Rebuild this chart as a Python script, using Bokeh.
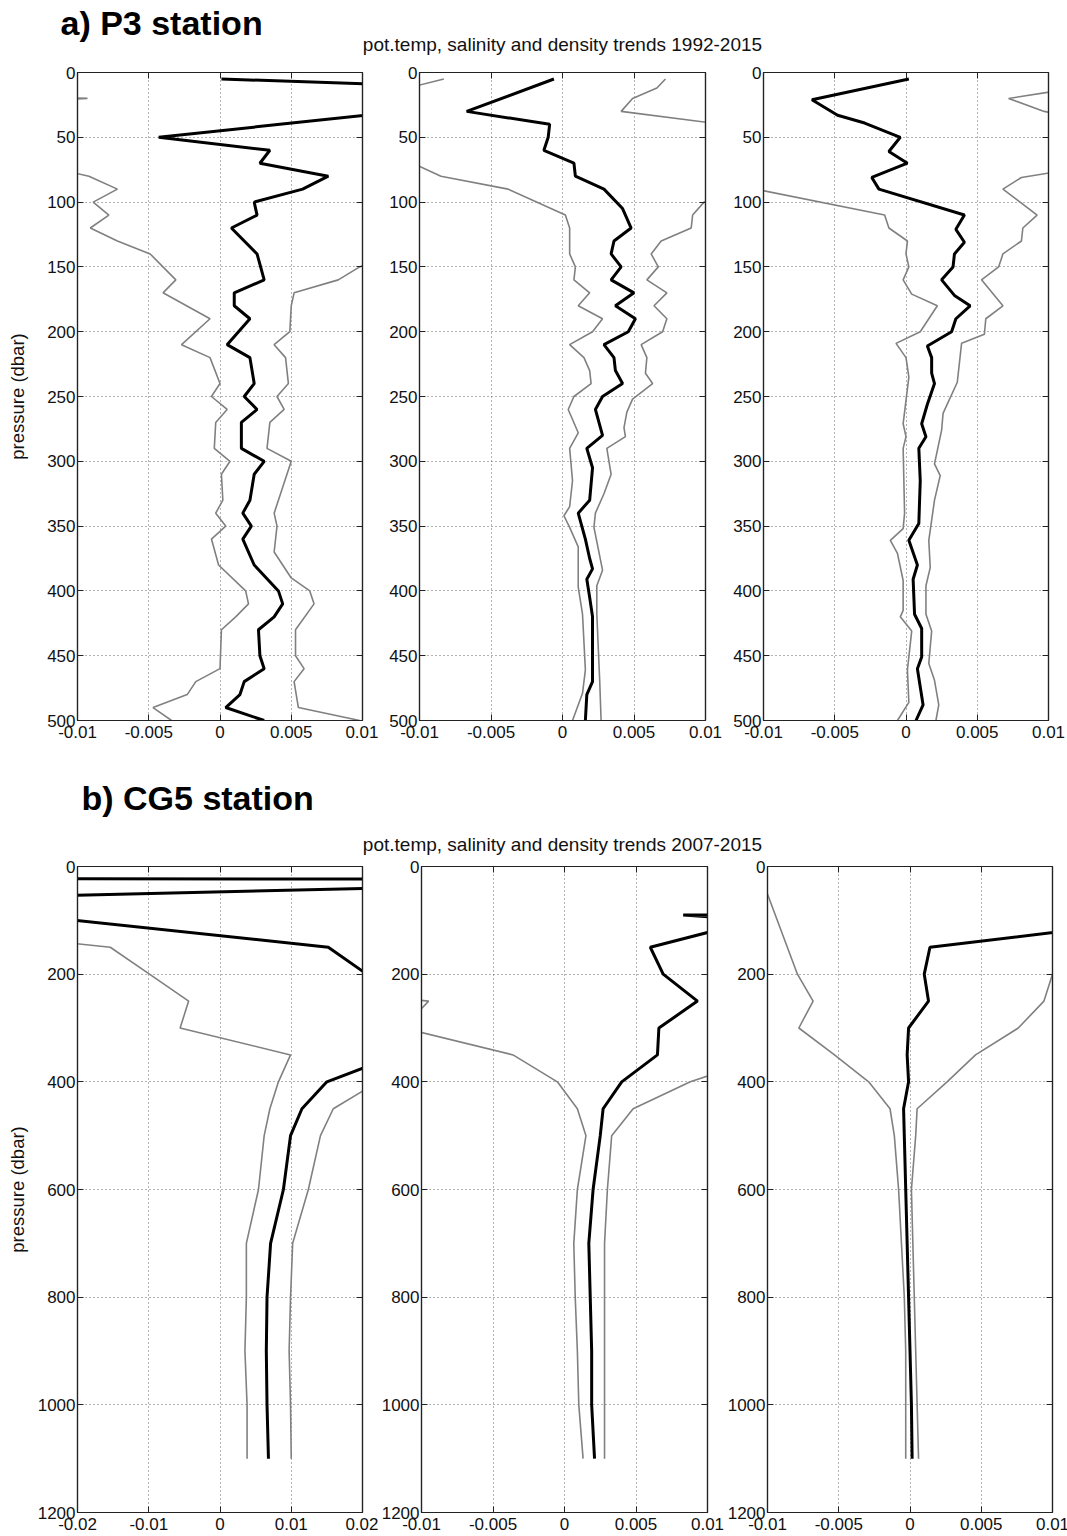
from bokeh.plotting import figure
from bokeh.models import Range1d, FixedTicker, LinearAxis, Label
from bokeh.layouts import column, row
from bokeh.embed import file_html
from bokeh.resources import INLINE

FONT = "Liberation Sans"

# ---------------- P3 station, trends 1992-2015 ----------------
# pot.temp trend and its lower / upper bounds (value vs pressure in dbar)
p3_temp_p = [5, 10, 20, 30, 40, 50, 60, 70, 80, 90, 100, 110, 120, 140, 160, 170, 180, 190, 210, 220,
             240, 250, 260, 270, 290, 300, 310, 330, 340, 350, 360, 380, 400, 410, 420, 430, 450, 460,
             470, 480, 490, 500]
p3_temp = [0.0001, 0.0135, 0.03, 0.0127, 0.0042, -0.0043, 0.0035, 0.0028, 0.0076, 0.0058, 0.0024,
           0.0026, 0.0008, 0.0026, 0.0031, 0.0010, 0.0010, 0.0021, 0.0005, 0.0021, 0.0024, 0.0017,
           0.0026, 0.0015, 0.0015, 0.0031, 0.0024, 0.0021, 0.0016, 0.0022, 0.0016, 0.0024, 0.0041,
           0.0044, 0.0038, 0.0027, 0.0028, 0.0031, 0.0017, 0.0014, 0.0004, 0.0031]
p3_temp_lo_p = [10, 20, 30, 70, 80, 90, 100, 110, 120, 130, 140, 160, 170, 190, 210, 220, 240, 250,
                260, 270, 290, 300, 310, 330, 340, 350, 360, 380, 400, 410, 420, 430, 460, 470, 480,
                490, 500]
p3_temp_lo = [-0.03, -0.0093, -0.03, -0.0132, -0.0092, -0.0072, -0.0089, -0.0078, -0.0091, -0.0072,
              -0.0049, -0.0031, -0.0040, -0.0007, -0.0027, -0.0007, 0.0000, -0.0006, 0.0005, -0.0003,
              -0.0004, 0.0007, 0.0001, 0.0002, -0.0003, 0.0004, -0.0006, -0.0001, 0.0018, 0.0020,
              0.0011, 0.0001, 0.0000, -0.0017, -0.0023, -0.0047, -0.0034]
p3_temp_hi_p = [130, 140, 150, 160, 170, 180, 200, 210, 220, 240, 250, 260, 270, 290, 300, 320, 340,
                350, 370, 390, 400, 410, 430, 450, 460, 470, 490, 500]
p3_temp_hi = [0.015, 0.0118, 0.0098, 0.0083, 0.0052, 0.0050, 0.0049, 0.0038, 0.0046, 0.0048, 0.0040,
              0.0045, 0.0035, 0.0033, 0.0050, 0.0044, 0.0038, 0.0040, 0.0038, 0.0050, 0.0063, 0.0066,
              0.0053, 0.0053, 0.0059, 0.0052, 0.0055, 0.0098]

# salinity trend and bounds
p3_sal_p = [5, 30, 40, 50, 60, 70, 80, 90, 105, 120, 130, 140, 150, 160, 170, 180, 190, 200, 210, 220,
            230, 240, 250, 260, 280, 290, 305, 330, 340, 360, 375, 383, 391, 405, 420, 470, 480, 500]
p3_sal = [-0.0006, -0.0067, -0.0009, -0.0010, -0.0013, 0.0008, 0.0009, 0.0029, 0.0042, 0.0048, 0.0036,
          0.0034, 0.0041, 0.0034, 0.0050, 0.0037, 0.0051, 0.0046, 0.0029, 0.0036, 0.0037, 0.0042,
          0.0028, 0.0023, 0.0028, 0.0017, 0.0021, 0.0019, 0.0011, 0.0016, 0.0019, 0.0021, 0.0017,
          0.0019, 0.0021, 0.0021, 0.0017, 0.0016]
p3_sal_lo_p = [5, 10, 20, 70, 80, 90, 110, 120, 140, 150, 160, 170, 180, 190, 200, 210, 220, 230, 240,
               250, 260, 278, 290, 315, 335, 342, 351, 366, 397, 418, 461, 479, 500]
p3_sal_lo = [-0.0083, -0.0101, -0.03, -0.0105, -0.0085, -0.0038, 0.0002, 0.0005, 0.0005, 0.0009,
             0.0008, 0.0019, 0.0011, 0.0028, 0.0021, 0.0005, 0.0015, 0.0019, 0.0020, 0.0008, 0.0004,
             0.0011, 0.0005, 0.0007, 0.0005, 0.0001, 0.0005, 0.0011, 0.0011, 0.0014, 0.0016, 0.0014,
             0.0007]
p3_sal_hi_p = [5, 12, 20, 30, 40, 50, 90, 100, 110, 120, 130, 140, 150, 160, 170, 180, 190, 200, 210,
               220, 232, 240, 252, 262, 274, 281, 290, 310, 325, 340, 351, 384, 396, 418, 469, 500]
p3_sal_hi = [0.0072, 0.0066, 0.0049, 0.0041, 0.0112, 0.02, 0.013, 0.0099, 0.0091, 0.0090, 0.0069,
             0.0062, 0.0067, 0.0059, 0.0073, 0.0064, 0.0073, 0.0070, 0.0055, 0.0059, 0.0058, 0.0063,
             0.0049, 0.0045, 0.0043, 0.0044, 0.0031, 0.0034, 0.0029, 0.0023, 0.0022, 0.0028, 0.0024,
             0.0024, 0.0026, 0.0027]

# density trend and bounds
p3_dens_p = [5, 21, 33, 39, 50, 61, 70, 81, 90, 110, 121, 131, 140, 150, 160, 172, 180, 190, 200, 211,
             220, 232, 240, 256, 271, 281, 290, 315, 348, 361, 380, 391, 418, 429, 451, 460, 488, 500]
p3_dens = [0.0002, -0.0066, -0.0048, -0.0029, -0.0004, -0.0012, 0.0001, -0.0024, -0.0019, 0.0041,
           0.0035, 0.0041, 0.0034, 0.0033, 0.0025, 0.0034, 0.0045, 0.0035, 0.0032, 0.0015, 0.0018,
           0.0018, 0.0020, 0.0015, 0.0011, 0.0014, 0.0009, 0.0010, 0.0009, 0.0002, 0.0008, 0.0005,
           0.0006, 0.0011, 0.0011, 0.0008, 0.0012, 0.0007]
p3_dens_lo_p = [80, 91, 110, 120, 130, 140, 150, 160, 171, 180, 200, 209, 220, 235, 253, 271, 281, 290,
                340, 352, 361, 371, 392, 415, 420, 431, 451, 461, 486, 500]
p3_dens_lo = [-0.02, -0.0101, -0.0015, -0.0012, 0.0001, 0.0000, 0.0002, -0.0002, 0.0004, 0.0022,
              0.0010, -0.0007, 0.0000, 0.0002, 0.0000, -0.0002, 0.0000, -0.0002, -0.0001, -0.0002,
              -0.0011, -0.0006, -0.0002, -0.0002, -0.0004, 0.0004, 0.0002, 0.0001, 0.0002, -0.0006]
p3_dens_hi_p = [10, 20, 30, 40, 70, 81, 90, 110, 120, 130, 140, 150, 160, 180, 190, 202, 209, 239, 263,
                276, 302, 311, 330, 361, 382, 396, 418, 431, 456, 469, 488, 500]
p3_dens_hi = [0.0130, 0.0072, 0.0097, 0.014, 0.0142, 0.0081, 0.0068, 0.0092, 0.0082, 0.0081, 0.0068,
              0.0065, 0.0053, 0.0068, 0.0056, 0.0055, 0.0039, 0.0036, 0.0026, 0.0025, 0.0020, 0.0024,
              0.0020, 0.0016, 0.0017, 0.0014, 0.0014, 0.0018, 0.0016, 0.0020, 0.0023, 0.0021]

# ---------------- CG5 station, trends 2007-2015 ----------------
cg5_temp_p = [10, 20, 30, 40, 60, 80, 100, 150, 200, 250, 300, 350, 400, 450, 500, 600, 700, 800, 900,
              1000, 1100]
cg5_temp = [-0.4, -0.6, 1.4, 0.0232, -0.0418, -0.06, -0.0202, 0.0152, 0.0206, 0.035, 0.03, 0.025,
            0.0150, 0.0115, 0.0099, 0.0089, 0.0071, 0.0066, 0.0065, 0.0066, 0.0068]
cg5_temp_lo_p = [100, 150, 200, 250, 300, 350, 400, 450, 500, 600, 700, 800, 900, 1000, 1100]
cg5_temp_lo = [-0.052, -0.0154, -0.0099, -0.0044, -0.0056, 0.0099, 0.0082, 0.0070, 0.0062, 0.0054,
               0.0037, 0.0037, 0.0035, 0.0038, 0.0038]
cg5_temp_hi_p = [350, 400, 450, 500, 600, 700, 800, 900, 1000, 1100]
cg5_temp_hi = [0.03, 0.0222, 0.0159, 0.0141, 0.0124, 0.0102, 0.0099, 0.0097, 0.0099, 0.0100]

cg5_sal_p = [80, 90, 100, 150, 200, 250, 300, 350, 400, 450, 500, 600, 700, 800, 900, 1000, 1100]
cg5_sal = [0.05, 0.0083, 0.0133, 0.0060, 0.0069, 0.0093, 0.0066, 0.0065, 0.0040, 0.0027, 0.0025,
           0.0020, 0.0017, 0.0018, 0.0019, 0.0019, 0.0021]
cg5_sal_lo_p = [200, 250, 300, 350, 400, 450, 500, 600, 700, 800, 900, 1000, 1100]
cg5_sal_lo = [-0.03, -0.0095, -0.0113, -0.0036, -0.0005, 0.0009, 0.0015, 0.0009, 0.00065, 0.00075,
              0.0009, 0.0010, 0.0013]
cg5_sal_hi_p = [350, 400, 450, 500, 600, 700, 800, 900, 1000, 1100]
cg5_sal_hi = [0.0143, 0.0088, 0.0048, 0.0033, 0.0030, 0.0028, 0.0028, 0.0028, 0.0028, 0.0028]

cg5_dens_p = [50, 100, 150, 200, 250, 300, 350, 400, 450, 500, 600, 700, 800, 900, 1000, 1100]
cg5_dens = [0.03, 0.0172, 0.0014, 0.0010, 0.0013, -0.0001, -0.0002, -0.0001, -0.00045, -0.0004,
            -0.0003, -0.0002, -0.0001, 0.0000, 0.0001, 0.00015]
cg5_dens_lo_p = [30, 200, 250, 300, 350, 400, 450, 500, 600, 700, 800, 900, 1000, 1100]
cg5_dens_lo = [-0.0103, -0.0079, -0.0068, -0.0078, -0.0053, -0.0029, -0.0014, -0.0011, -0.0008,
               -0.0006, -0.0004, -0.0003, -0.0003, -0.0003]
cg5_dens_hi_p = [150, 200, 250, 300, 350, 400, 450, 500, 600, 700, 800, 900, 1000, 1100]
cg5_dens_hi = [0.02, 0.0100, 0.0094, 0.0076, 0.0046, 0.0026, 0.0005, 0.0004, 0.0001, 0.0002, 0.0003,
               0.0004, 0.0005, 0.0006]

# ---------------- axes ----------------
ticks_01 = [-0.01, -0.005, 0, 0.005, 0.01]
tick_labels_01 = ["-0.01", "-0.005", "0", "0.005", "0.01"]
ticks_02 = [-0.02, -0.01, 0, 0.01, 0.02]
tick_labels_02 = ["-0.02", "-0.01", "0", "0.01", "0.02"]
p3_pressure_ticks = [0, 50, 100, 150, 200, 250, 300, 350, 400, 450, 500]
cg5_pressure_ticks = [0, 200, 400, 600, 800, 1000, 1200]

title_a = "a) P3 station"
title_b = "b) CG5 station"
subtitle_a = "pot.temp, salinity and density trends 1992-2015"
subtitle_b = "pot.temp, salinity and density trends 2007-2015"
y_label = "pressure (dbar)"

TREND_COLOR = "#000000"
BOUND_COLOR = "#808080"
FRAME_COLOR = "#222222"
TICK_FONT = "17px"


def style_axis(ax, ticks, labels=None, hidden=False):
    ax.ticker = FixedTicker(ticks=ticks)
    ax.major_tick_in = 6
    ax.major_tick_out = 0
    ax.minor_tick_line_color = None
    ax.major_tick_line_color = FRAME_COLOR
    ax.axis_line_color = FRAME_COLOR
    ax.axis_line_width = 1.2
    ax.major_label_text_font = FONT
    ax.major_label_text_color = "#111111"
    if hidden:
        ax.major_label_overrides = {t: "" for t in ticks}
        ax.major_label_text_font_size = "0px"
        ax.major_label_standoff = 0
    else:
        ax.major_label_text_font_size = TICK_FONT
        if labels is not None:
            ax.major_label_overrides = dict(zip(ticks, labels))


def panel(series, xlim, xticks, xlabels, ymax, yticks, frame_w, frame_h,
          left, right, top, bottom, ylabel=False, ylabel_standoff=10):
    p = figure(frame_width=frame_w, frame_height=frame_h, title=None,
               x_range=Range1d(*xlim), y_range=Range1d(ymax, 0),
               toolbar_location=None, output_backend="svg",
               min_border_left=left, min_border_right=right,
               min_border_top=top, min_border_bottom=bottom,
               background_fill_color="white", border_fill_color="white",
               outline_line_color=FRAME_COLOR, outline_line_width=1.2)
    style_axis(p.xaxis[0], xticks, xlabels)
    p.xaxis[0].major_label_standoff = 5
    style_axis(p.yaxis[0], yticks)
    p.yaxis[0].major_label_standoff = 2
    if ylabel:
        p.yaxis[0].axis_label = y_label
        p.yaxis[0].axis_label_text_font = FONT
        p.yaxis[0].axis_label_text_font_style = "normal"
        p.yaxis[0].axis_label_text_font_size = "18.5px"
        p.yaxis[0].axis_label_text_color = "#111111"
        p.yaxis[0].axis_label_standoff = ylabel_standoff

    top_ax = LinearAxis()
    style_axis(top_ax, xticks, hidden=True)
    p.add_layout(top_ax, "above")
    right_ax = LinearAxis()
    style_axis(right_ax, yticks, hidden=True)
    p.add_layout(right_ax, "right")

    for g in p.xgrid:
        g.ticker = FixedTicker(ticks=xticks)
    for g in p.ygrid:
        g.ticker = FixedTicker(ticks=yticks)
    p.grid.grid_line_color = "#666666"
    p.grid.grid_line_dash = "1 3"
    p.grid.grid_line_width = 1

    (tp, tv), (lp, lv), (hp, hv) = series
    p.line(lv, lp, line_color=BOUND_COLOR, line_width=1.6)
    p.line(hv, hp, line_color=BOUND_COLOR, line_width=1.6)
    p.line(tv, tp, line_color=TREND_COLOR, line_width=3)
    return p


def header(height, title, title_y, subtitle, subtitle_y, title_x):
    h = figure(width=1067, height=height, title=None,
               x_range=Range1d(0, 1067), y_range=Range1d(height, 0),
               toolbar_location=None, output_backend="svg", x_axis_type=None, y_axis_type=None,
               min_border=0, outline_line_color=None, border_fill_color="white")
    h.add_layout(Label(x=title_x, y=title_y, text=title, text_font=FONT, text_font_style="bold",
                       text_font_size="34px", text_color="#000000", text_baseline="alphabetic",
                       text_align="left"))
    h.add_layout(Label(x=562, y=subtitle_y, text=subtitle, text_font=FONT, text_font_size="19px",
                       text_color="#111111", text_baseline="alphabetic", text_align="center"))
    return h


H1 = 60
H2 = 96
top_row = row(
    panel([(p3_temp_p, p3_temp), (p3_temp_lo_p, p3_temp_lo), (p3_temp_hi_p, p3_temp_hi)],
          (-0.01, 0.01), ticks_01, tick_labels_01, 500, p3_pressure_ticks, 285, 648,
          77, 16, 12, 40, ylabel=True, ylabel_standoff=16),
    panel([(p3_sal_p, p3_sal), (p3_sal_lo_p, p3_sal_lo), (p3_sal_hi_p, p3_sal_hi)],
          (-0.01, 0.01), ticks_01, tick_labels_01, 500, p3_pressure_ticks, 286, 648,
          41, 17, 12, 40),
    panel([(p3_dens_p, p3_dens), (p3_dens_lo_p, p3_dens_lo), (p3_dens_hi_p, p3_dens_hi)],
          (-0.01, 0.01), ticks_01, tick_labels_01, 500, p3_pressure_ticks, 285, 648,
          41, 19, 12, 40),
)
bottom_row = row(
    panel([(cg5_temp_p, cg5_temp), (cg5_temp_lo_p, cg5_temp_lo), (cg5_temp_hi_p, cg5_temp_hi)],
          (-0.02, 0.02), ticks_02, tick_labels_02, 1200, cg5_pressure_ticks, 285, 646,
          77, 16, 10, 24, ylabel=True, ylabel_standoff=7),
    panel([(cg5_sal_p, cg5_sal), (cg5_sal_lo_p, cg5_sal_lo), (cg5_sal_hi_p, cg5_sal_hi)],
          (-0.01, 0.01), ticks_01, tick_labels_01, 1200, cg5_pressure_ticks, 286, 646,
          41, 17, 10, 24),
    panel([(cg5_dens_p, cg5_dens), (cg5_dens_lo_p, cg5_dens_lo), (cg5_dens_hi_p, cg5_dens_hi)],
          (-0.01, 0.01), ticks_01, tick_labels_01, 1200, cg5_pressure_ticks, 285, 646,
          41, 19, 10, 24),
)

page = column(
    header(H1, title_a, 22, subtitle_a, 44, 60),
    top_row,
    header(H2, title_b, 37, subtitle_b, 84, 81),
    bottom_row,
)

with open("out.html", "w") as f:
    f.write(file_html(page, INLINE))
